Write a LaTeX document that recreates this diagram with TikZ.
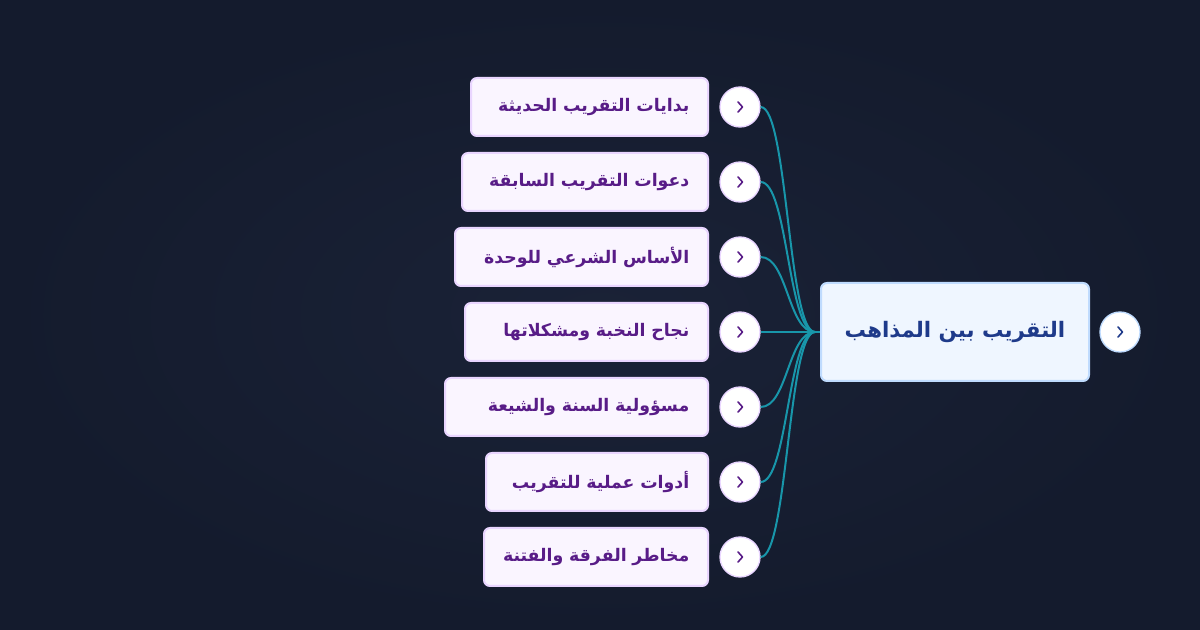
\documentclass[tikz,border=0pt]{standalone}
\usepackage{fontspec}
\usepackage{tikz}
\usepackage{xcolor}
\usetikzlibrary{calc}
\TeXXeTstate=1
\newfontfamily\arabicfont[Script=Arabic]{DejaVu Sans}
\definecolor{bgnavy}{HTML}{141B2D}
\definecolor{bgmid}{HTML}{1A2237}
\definecolor{mainfill}{HTML}{EFF6FF}
\definecolor{mainline}{HTML}{BFDBFE}
\definecolor{maintext}{HTML}{1E3A8A}
\definecolor{subfill}{HTML}{FAF5FF}
\definecolor{subline}{HTML}{E9D5FF}
\definecolor{subtext}{HTML}{581C87}
\definecolor{linkteal}{HTML}{1896AA}
\newcommand{\chevron}[2]{\draw[#2, line width=1.2pt, line cap=round, line join=round]
  ($(#1.center)+(-2,-5)$) -- ($(#1.center)+(2.5,0)$) -- ($(#1.center)+(-2,5)$);}

\begin{document}
\begin{tikzpicture}[
    x=0.75pt, y=-0.75pt,
    mainbox/.style={
        rectangle,
        rounded corners=4.5pt,
        draw=mainline,
        fill=mainfill,
        line width=1.5pt,
        minimum width=201pt,
        minimum height=73.5pt,
        align=center,
        text=maintext,
        font=\arabicfont\bfseries\fontsize{16}{19}\selectfont
    },
    subbox/.style={
        rectangle,
        rounded corners=4.5pt,
        draw=subline,
        fill=subfill,
        line width=1.5pt,
        minimum height=43.5pt,
        inner xsep=14pt,
        align=right,
        anchor=east,
        text=subtext,
        font=\arabicfont\bfseries\fontsize{13}{16}\selectfont
    },
    toggle/.style={
        circle,
        fill=white,
        draw=subline,
        line width=1pt,
        minimum size=30pt,
        inner sep=0pt
    },
    link/.style={linkteal, line width=1.5pt}
]

\shade[inner color=bgmid, outer color=bgnavy] (0,0) rectangle (1200,630);
\useasboundingbox (0,0) rectangle (1200,630);

\node[mainbox] (main) at (955,332) {\beginR التقريب بين المذاهب\endR};
\node[toggle, draw=mainline] (tgmain) at (1120,332) {};
\coordinate (hub) at (815,332);

\node[subbox, text width=149.75pt] (start) at (709,107) {\beginR بدايات التقريب الحديثة\endR};
\node[subbox, text width=156.5pt] (calls) at (709,182) {\beginR دعوات التقريب السابقة\endR};
\node[subbox, text width=161.75pt] (basis) at (709,257) {\beginR الأساس الشرعي للوحدة\endR};
\node[subbox, text width=154.25pt] (elite) at (709,332) {\beginR نجاح النخبة ومشكلاتها\endR};
\node[subbox, text width=169.25pt] (duty) at (709,407) {\beginR مسؤولية السنة والشيعة\endR};
\node[subbox, text width=138.5pt] (tools) at (709,482) {\beginR أدوات عملية للتقريب\endR};
\node[subbox, text width=140pt] (risks) at (709,557) {\beginR مخاطر الفرقة والفتنة\endR};

\node[toggle] (tgstart) at (740,107) {};
\node[toggle] (tgcalls) at (740,182) {};
\node[toggle] (tgbasis) at (740,257) {};
\node[toggle] (tgelite) at (740,332) {};
\node[toggle] (tgduty) at (740,407) {};
\node[toggle] (tgtools) at (740,482) {};
\node[toggle] (tgrisks) at (740,557) {};

% links into the main topic
\draw[link] (tgstart.east) .. controls +(27,0) and +(-27,0) .. (hub);
\draw[link] (tgcalls.east) .. controls +(27,0) and +(-27,0) .. (hub);
\draw[link] (tgbasis.east) .. controls +(27,0) and +(-27,0) .. (hub);
\draw[link] (tgelite.east) -- (hub);
\draw[link] (tgduty.east) .. controls +(27,0) and +(-27,0) .. (hub);
\draw[link] (tgtools.east) .. controls +(27,0) and +(-27,0) .. (hub);
\draw[link] (tgrisks.east) .. controls +(27,0) and +(-27,0) .. (hub);
\draw[link] (hub) -- (main.west);

\chevron{tgmain}{maintext}
\chevron{tgstart}{subtext}
\chevron{tgcalls}{subtext}
\chevron{tgbasis}{subtext}
\chevron{tgelite}{subtext}
\chevron{tgduty}{subtext}
\chevron{tgtools}{subtext}
\chevron{tgrisks}{subtext}

\end{tikzpicture}
\end{document}
